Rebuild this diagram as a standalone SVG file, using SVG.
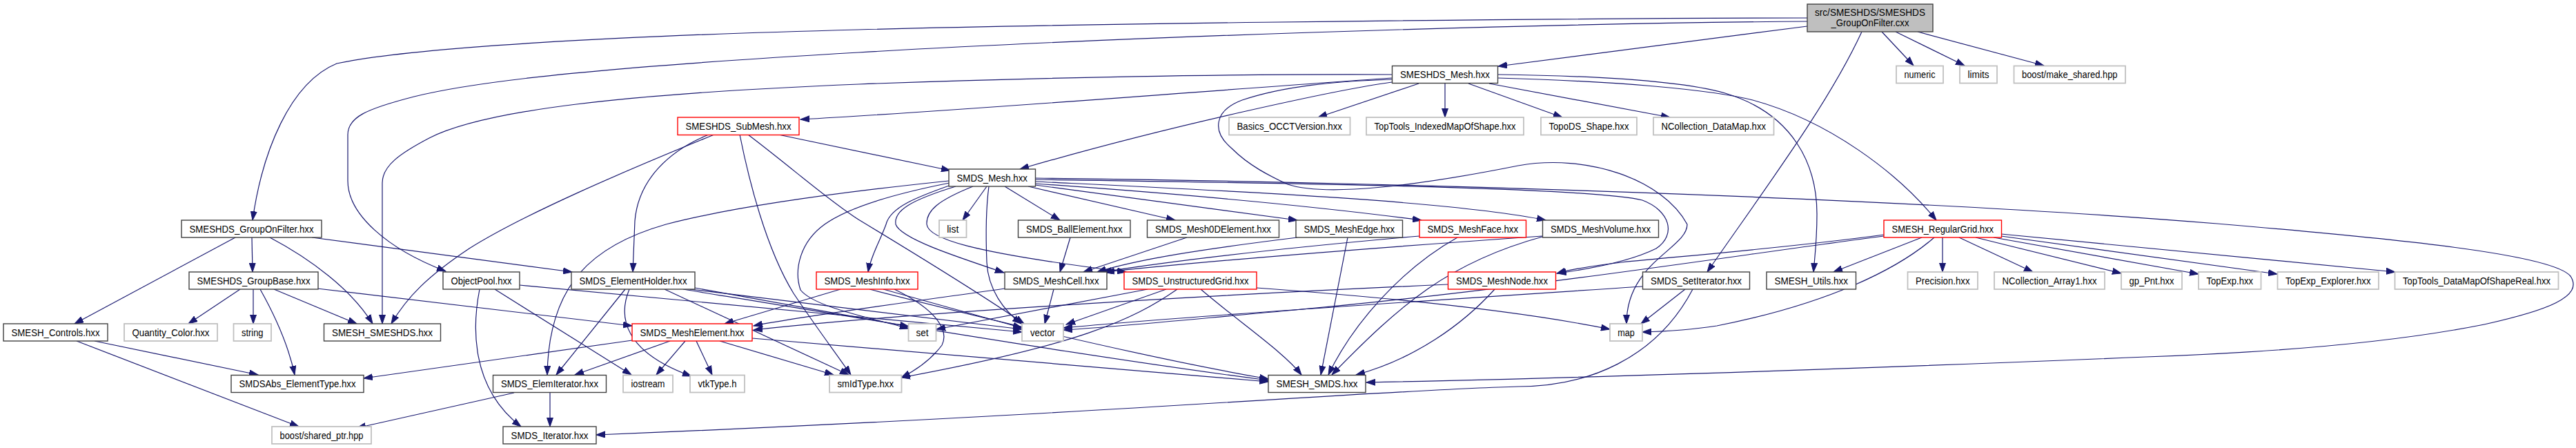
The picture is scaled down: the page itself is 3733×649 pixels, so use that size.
<svg xmlns="http://www.w3.org/2000/svg" width="3733" height="649" viewBox="0 0 3733 649">
<style>
.n rect{fill:#fff;stroke:#404040;stroke-width:1.4}
.n.g rect{stroke:#c0c0c0;stroke-width:1.8}
.n.r rect{stroke:#ff0000;stroke-width:1.4}
.n.m rect{fill:#bfbfbf}
text{font-family:"Liberation Sans",Arial,sans-serif;font-size:15.5px;text-anchor:middle;fill:#000}
#edges path{fill:none;stroke:#191970;stroke-width:1.2;marker-end:url(#a)}
</style>
<defs>
<marker id="a" markerWidth="14" markerHeight="10" refX="13" refY="5" orient="auto" markerUnits="userSpaceOnUse"><path d="M0,0.5 L13,5 L0,9.5 z" fill="#191970" stroke="#191970" stroke-width="1"/></marker>
</defs>
<rect x="0" y="0" width="3733" height="649" fill="#fff"/>
<g id="edges">
<path d="M2619,26 C2100,27 1500,36 1244,43 C900,52 600,68 488,92 C420,120 380,220 366,319"/>
<path d="M2619,31 C2200,34 1600,55 1244,76 C900,96 700,115 600,140 C530,158 504,170 504,195 L504,262 C504,310 560,360 646,393"/>
<path d="M2619,38 L2171,96"/>
<path d="M2727,46 L2773,95"/>
<path d="M2747,46 L2847,95"/>
<path d="M2779,46 L2962,95"/>
<path d="M2698,46 C2650,150 2560,270 2474,394"/>
<path d="M2017,108 C1800,107 1500,112 1244,122 C900,136 700,160 622,200 C580,222 554,240 554,265 L554,469"/>
<path d="M2017,113 C1700,135 1400,160 1160,173"/>
<path d="M2017,119 C1950,128 1700,180 1478,245"/>
<path d="M2017,115 C1930,118 1860,125 1800,145 C1760,160 1755,190 1785,215 C1810,240 1840,255 1866,267 C1920,285 2050,270 2200,240 C2300,222 2410,260 2445,325 C2445,360 2357,380 2357,469"/>
<path d="M2056,121 L1910,170"/>
<path d="M2094,121 L2094,170"/>
<path d="M2128,121 L2264,170"/>
<path d="M2158,121 L2420,170"/>
<path d="M2171,108 C2330,110 2440,118 2500,135 C2600,165 2633,240 2633,310 C2633,350 2630,370 2628,394"/>
<path d="M2171,113 C2350,118 2480,130 2540,145 C2650,175 2750,250 2806,319"/>
<path d="M1035,195 C900,250 760,310 680,360 C620,400 590,430 567,469"/>
<path d="M1027,195 C970,218 925,260 920,320 L917,394"/>
<path d="M1072,195 C1085,260 1110,360 1150,425 C1180,470 1210,510 1233,543"/>
<path d="M1084,195 C1150,245 1200,290 1244,318 C1330,370 1420,425 1484,469"/>
<path d="M1128,195 L1377,247"/>
<path d="M1375,262 C1250,275 1080,295 965,325 C860,355 795,410 793,543"/>
<path d="M1378,268 C1330,285 1290,300 1284,325 C1275,350 1262,370 1258,394"/>
<path d="M1385,270 C1320,290 1295,305 1298,325 C1305,345 1380,370 1455,395"/>
<path d="M1410,270 C1360,290 1342,305 1343,325 C1345,345 1400,365 1632,394"/>
<path d="M1430,270 L1395,319"/>
<path d="M1433,270 C1429,300 1428,330 1430,380 C1432,420 1455,450 1480,469"/>
<path d="M1376,265 C1300,280 1230,300 1195,325 C1160,350 1150,390 1160,420 C1180,445 1260,460 1317,476"/>
<path d="M1456,270 L1536,319"/>
<path d="M1490,270 L1703,319"/>
<path d="M1500,268 L1880,319"/>
<path d="M1500,266 C1700,280 1900,298 2060,319"/>
<path d="M1500,263 C1750,275 2100,290 2240,319"/>
<path d="M1500,260 C1800,265 2300,270 2380,290 C2420,305 2430,340 2400,360 C2360,380 2300,390 2257,396"/>
<path d="M1500,258 C2100,265 2800,290 3213,324 C3500,348 3700,370 3725,400 C3745,430 3690,450 3600,470 C3450,500 3250,512 3110,517 C2800,530 2300,548 1980,554"/>
<path d="M365,344 L366,394"/>
<path d="M341,344 L108,469"/>
<path d="M391,344 C450,375 510,420 540,469"/>
<path d="M452,344 L829,394"/>
<path d="M348,419 L273,469"/>
<path d="M367,419 L367,469"/>
<path d="M377,419 C400,460 418,500 427,543"/>
<path d="M397,419 L517,469"/>
<path d="M460,418 L916,472"/>
<path d="M137,494 L374,543"/>
<path d="M111,494 L433,618"/>
<path d="M695,419 C685,470 680,560 755,618"/>
<path d="M717,419 L915,543"/>
<path d="M753,413 L1481,481"/>
<path d="M906,419 L806,543"/>
<path d="M912,419 C895,460 905,510 1002,545"/>
<path d="M963,419 L1230,543"/>
<path d="M990,419 C1300,470 1600,520 1838,551"/>
<path d="M1007,417 L1317,473"/>
<path d="M1000,419 L1481,477"/>
<path d="M916,493 L527,548"/>
<path d="M971,494 L833,543"/>
<path d="M993,494 L951,543"/>
<path d="M1009,494 L1032,543"/>
<path d="M1043,494 L1208,543"/>
<path d="M1090,490 C1400,515 1700,540 1838,553"/>
<path d="M797,569 L797,618"/>
<path d="M745,569 L517,620"/>
<path d="M1218,419 L1050,469"/>
<path d="M1296,419 C1360,450 1375,480 1365,500 C1350,520 1330,535 1306,547"/>
<path d="M1280,419 L1481,475"/>
<path d="M1260,419 C1500,480 1700,525 1838,549"/>
<path d="M1551,344 L1536,394"/>
<path d="M1720,344 L1570,394"/>
<path d="M1880,344 C1750,360 1650,375 1590,394"/>
<path d="M2057,342 C1850,360 1700,378 1598,394"/>
<path d="M2235,342 C1950,362 1750,378 1602,394"/>
<path d="M1953,344 L1914,543"/>
<path d="M2112,344 C2030,390 1960,470 1925,543"/>
<path d="M2235,343 C2100,380 2030,440 1930,543"/>
<path d="M1527,419 L1514,469"/>
<path d="M1456,418 C1300,440 1150,460 1092,472"/>
<path d="M1663,419 L1357,477"/>
<path d="M1690,419 L1545,470"/>
<path d="M1706,419 C1640,465 1560,500 1306,547"/>
<path d="M1740,419 C1800,470 1860,510 1886,543"/>
<path d="M1821,417 C2000,430 2200,450 2333,477"/>
<path d="M2098,412 C1700,430 1300,455 1092,478"/>
<path d="M2166,419 C2120,470 2050,520 1965,543"/>
<path d="M2442,419 L2378,469"/>
<path d="M2453,419 C2400,520 2300,560 2200,560 C2000,565 1600,600 864,630"/>
<path d="M2380,415 C2000,440 1700,460 1541,475"/>
<path d="M2785,344 L2657,394"/>
<path d="M2815,344 L2815,394"/>
<path d="M2839,344 L2946,394"/>
<path d="M2863,344 L3074,396"/>
<path d="M2889,344 L3186,397"/>
<path d="M2900,342 L3300,397"/>
<path d="M2900,339 L3471,394"/>
<path d="M2803,344 C2750,390 2650,440 2488,472 C2450,478 2420,480 2380,481"/>
<path d="M2730,340 C2600,358 2450,370 2350,380 C2300,386 2270,392 2256,396"/>
<path d="M2730,342 C2500,372 2200,420 1866,450 C1700,465 1600,475 1541,478"/>
</g>
<g id="n_main" class="n m"><rect x="2619" y="6" width="182" height="40"/><text x="2710" y="22.7" textLength="160" lengthAdjust="spacingAndGlyphs">src/SMESHDS/SMESHDS</text><text x="2710" y="38" textLength="113" lengthAdjust="spacingAndGlyphs">_GroupOnFilter.cxx</text></g>
<g id="n_gof" class="n"><rect x="263" y="319" width="203" height="25"/><text x="364.5" y="337" textLength="180" lengthAdjust="spacingAndGlyphs">SMESHDS_GroupOnFilter.hxx</text></g>
<g id="n_dsmesh" class="n"><rect x="2017.5" y="95.5" width="153" height="25"/><text x="2094" y="113.3" textLength="130" lengthAdjust="spacingAndGlyphs">SMESHDS_Mesh.hxx</text></g>
<g id="n_numeric" class="n g"><rect x="2748" y="95.5" width="68" height="25"/><text x="2782" y="113.3" textLength="45" lengthAdjust="spacingAndGlyphs">numeric</text></g>
<g id="n_limits" class="n g"><rect x="2840" y="95.5" width="54" height="25"/><text x="2867" y="113.3" textLength="31" lengthAdjust="spacingAndGlyphs">limits</text></g>
<g id="n_mkshared" class="n g"><rect x="2918.5" y="95.5" width="161.5" height="25"/><text x="2999.25" y="113.3" textLength="138.5" lengthAdjust="spacingAndGlyphs">boost/make_shared.hpp</text></g>
<g id="n_submesh" class="n r"><rect x="982" y="170" width="176" height="25.5"/><text x="1070" y="188" textLength="153" lengthAdjust="spacingAndGlyphs">SMESHDS_SubMesh.hxx</text></g>
<g id="n_basics" class="n g"><rect x="1781" y="170" width="175.5" height="25.5"/><text x="1868.75" y="188" textLength="152.5" lengthAdjust="spacingAndGlyphs">Basics_OCCTVersion.hxx</text></g>
<g id="n_ttimos" class="n g"><rect x="1980" y="170" width="228" height="25.5"/><text x="2094" y="188" textLength="205" lengthAdjust="spacingAndGlyphs">TopTools_IndexedMapOfShape.hxx</text></g>
<g id="n_topods" class="n g"><rect x="2233" y="170" width="139" height="25.5"/><text x="2302.5" y="188" textLength="116" lengthAdjust="spacingAndGlyphs">TopoDS_Shape.hxx</text></g>
<g id="n_ncdm" class="n g"><rect x="2396" y="170" width="174.5" height="25.5"/><text x="2483.25" y="188" textLength="151.5" lengthAdjust="spacingAndGlyphs">NCollection_DataMap.hxx</text></g>
<g id="n_smdsmesh" class="n"><rect x="1375" y="245" width="125.5" height="25"/><text x="1437.75" y="262.8" textLength="102.5" lengthAdjust="spacingAndGlyphs">SMDS_Mesh.hxx</text></g>
<g id="n_groupbase" class="n"><rect x="274" y="394" width="187" height="25"/><text x="367.5" y="411.8" textLength="164" lengthAdjust="spacingAndGlyphs">SMESHDS_GroupBase.hxx</text></g>
<g id="n_controls" class="n"><rect x="5" y="469" width="151" height="25"/><text x="80.5" y="486.8" textLength="128" lengthAdjust="spacingAndGlyphs">SMESH_Controls.hxx</text></g>
<g id="n_qcolor" class="n g"><rect x="180" y="469" width="135" height="25"/><text x="247.5" y="486.8" textLength="112" lengthAdjust="spacingAndGlyphs">Quantity_Color.hxx</text></g>
<g id="n_string" class="n g"><rect x="338.5" y="469" width="54.5" height="25"/><text x="365.75" y="486.8" textLength="31.5" lengthAdjust="spacingAndGlyphs">string</text></g>
<g id="n_smeshds" class="n"><rect x="469.5" y="469" width="169" height="25"/><text x="554" y="486.8" textLength="146" lengthAdjust="spacingAndGlyphs">SMESH_SMESHDS.hxx</text></g>
<g id="n_abstype" class="n"><rect x="335" y="543.5" width="192" height="25"/><text x="431" y="561.3" textLength="169" lengthAdjust="spacingAndGlyphs">SMDSAbs_ElementType.hxx</text></g>
<g id="n_shptr" class="n g"><rect x="394" y="618" width="144" height="25"/><text x="466" y="635.8" textLength="121" lengthAdjust="spacingAndGlyphs">boost/shared_ptr.hpp</text></g>
<g id="n_objpool" class="n"><rect x="642" y="394" width="111" height="25"/><text x="697.5" y="411.8" textLength="88" lengthAdjust="spacingAndGlyphs">ObjectPool.hxx</text></g>
<g id="n_elemholder" class="n"><rect x="828" y="394" width="179" height="25"/><text x="917.5" y="411.8" textLength="156" lengthAdjust="spacingAndGlyphs">SMDS_ElementHolder.hxx</text></g>
<g id="n_meshelem" class="n r"><rect x="916" y="469" width="174" height="25"/><text x="1003" y="486.8" textLength="151" lengthAdjust="spacingAndGlyphs">SMDS_MeshElement.hxx</text></g>
<g id="n_elemiter" class="n"><rect x="714.5" y="543.5" width="164" height="25"/><text x="796.5" y="561.3" textLength="141" lengthAdjust="spacingAndGlyphs">SMDS_ElemIterator.hxx</text></g>
<g id="n_iostream" class="n g"><rect x="903" y="543.5" width="72" height="25"/><text x="939" y="561.3" textLength="49" lengthAdjust="spacingAndGlyphs">iostream</text></g>
<g id="n_vtktype" class="n g"><rect x="1000" y="543.5" width="79" height="25"/><text x="1039.5" y="561.3" textLength="56" lengthAdjust="spacingAndGlyphs">vtkType.h</text></g>
<g id="n_smidtype" class="n g"><rect x="1202" y="543.5" width="104.5" height="25"/><text x="1254.25" y="561.3" textLength="81.5" lengthAdjust="spacingAndGlyphs">smIdType.hxx</text></g>
<g id="n_iterator" class="n"><rect x="729" y="618" width="135" height="25"/><text x="796.5" y="635.8" textLength="112" lengthAdjust="spacingAndGlyphs">SMDS_Iterator.hxx</text></g>
<g id="n_meshinfo" class="n r"><rect x="1183" y="394" width="147" height="25"/><text x="1256.5" y="411.8" textLength="124" lengthAdjust="spacingAndGlyphs">SMDS_MeshInfo.hxx</text></g>
<g id="n_list" class="n g"><rect x="1361" y="319" width="39.5" height="25"/><text x="1380.75" y="337" textLength="17" lengthAdjust="spacingAndGlyphs">list</text></g>
<g id="n_ball" class="n"><rect x="1475.5" y="319" width="162.5" height="25"/><text x="1556.75" y="337" textLength="139.5" lengthAdjust="spacingAndGlyphs">SMDS_BallElement.hxx</text></g>
<g id="n_0d" class="n"><rect x="1662.5" y="319" width="191" height="25"/><text x="1758" y="337" textLength="168" lengthAdjust="spacingAndGlyphs">SMDS_Mesh0DElement.hxx</text></g>
<g id="n_edge" class="n"><rect x="1878" y="319" width="154.5" height="25"/><text x="1955.25" y="337" textLength="131.5" lengthAdjust="spacingAndGlyphs">SMDS_MeshEdge.hxx</text></g>
<g id="n_face" class="n r"><rect x="2057" y="319" width="154.5" height="25"/><text x="2134.25" y="337" textLength="131.5" lengthAdjust="spacingAndGlyphs">SMDS_MeshFace.hxx</text></g>
<g id="n_volume" class="n"><rect x="2235.5" y="319" width="168" height="25"/><text x="2319.5" y="337" textLength="145" lengthAdjust="spacingAndGlyphs">SMDS_MeshVolume.hxx</text></g>
<g id="n_cell" class="n"><rect x="1456" y="394" width="148" height="25"/><text x="1530" y="411.8" textLength="125" lengthAdjust="spacingAndGlyphs">SMDS_MeshCell.hxx</text></g>
<g id="n_ugrid" class="n r"><rect x="1629" y="394" width="192" height="25"/><text x="1725" y="411.8" textLength="169" lengthAdjust="spacingAndGlyphs">SMDS_UnstructuredGrid.hxx</text></g>
<g id="n_node" class="n r"><rect x="2098.5" y="394" width="156" height="25"/><text x="2176.5" y="411.8" textLength="133" lengthAdjust="spacingAndGlyphs">SMDS_MeshNode.hxx</text></g>
<g id="n_setiter" class="n"><rect x="2380.5" y="394" width="155" height="25"/><text x="2458" y="411.8" textLength="132" lengthAdjust="spacingAndGlyphs">SMDS_SetIterator.hxx</text></g>
<g id="n_set" class="n g"><rect x="1316.5" y="469" width="40" height="25"/><text x="1336.5" y="486.8" textLength="18" lengthAdjust="spacingAndGlyphs">set</text></g>
<g id="n_vector" class="n g"><rect x="1481" y="469" width="60" height="25"/><text x="1511" y="486.8" textLength="36" lengthAdjust="spacingAndGlyphs">vector</text></g>
<g id="n_map" class="n g"><rect x="2333" y="469" width="47" height="25"/><text x="2356.5" y="486.8" textLength="24.5" lengthAdjust="spacingAndGlyphs">map</text></g>
<g id="n_smeshsmds" class="n"><rect x="1838" y="543.5" width="141" height="25"/><text x="1908.5" y="561.3" textLength="118" lengthAdjust="spacingAndGlyphs">SMESH_SMDS.hxx</text></g>
<g id="n_reggrid" class="n r"><rect x="2730" y="319" width="170.5" height="25"/><text x="2815.25" y="337" textLength="147.5" lengthAdjust="spacingAndGlyphs">SMESH_RegularGrid.hxx</text></g>
<g id="n_utils" class="n"><rect x="2560" y="394" width="129.5" height="25"/><text x="2624.75" y="411.8" textLength="106.5" lengthAdjust="spacingAndGlyphs">SMESH_Utils.hxx</text></g>
<g id="n_precision" class="n g"><rect x="2764.5" y="394" width="101.5" height="25"/><text x="2815.25" y="411.8" textLength="78.5" lengthAdjust="spacingAndGlyphs">Precision.hxx</text></g>
<g id="n_nca1" class="n g"><rect x="2890" y="394" width="160" height="25"/><text x="2970" y="411.8" textLength="137" lengthAdjust="spacingAndGlyphs">NCollection_Array1.hxx</text></g>
<g id="n_gppnt" class="n g"><rect x="3074" y="394" width="88" height="25"/><text x="3118" y="411.8" textLength="65" lengthAdjust="spacingAndGlyphs">gp_Pnt.hxx</text></g>
<g id="n_topexp" class="n g"><rect x="3186" y="394" width="90.5" height="25"/><text x="3231.25" y="411.8" textLength="67.5" lengthAdjust="spacingAndGlyphs">TopExp.hxx</text></g>
<g id="n_topexpl" class="n g"><rect x="3300.5" y="394" width="146.5" height="25"/><text x="3373.75" y="411.8" textLength="123.5" lengthAdjust="spacingAndGlyphs">TopExp_Explorer.hxx</text></g>
<g id="n_ttdmsr" class="n g"><rect x="3470.5" y="394" width="237" height="25"/><text x="3589" y="411.8" textLength="214" lengthAdjust="spacingAndGlyphs">TopTools_DataMapOfShapeReal.hxx</text></g>
</svg>
